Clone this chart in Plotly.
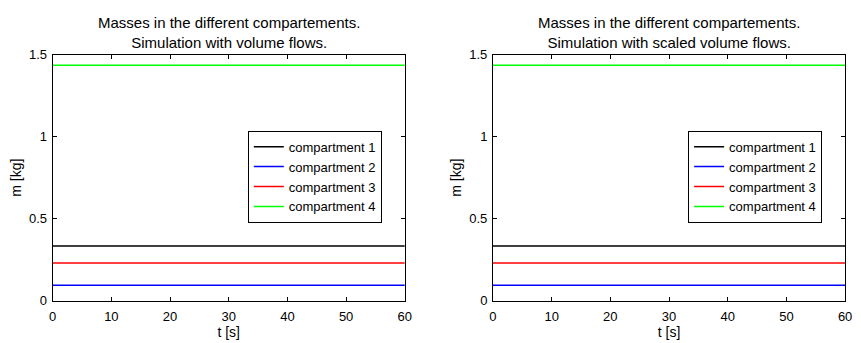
import plotly.graph_objects as go

t = [0, 60]
names = ["compartment 1", "compartment 2", "compartment 3", "compartment 4"]
colors = ["#000000", "#0000ff", "#ff0000", "#00ff00"]
mass_left = [0.333, 0.093, 0.229, 1.436]
mass_right = [0.333, 0.093, 0.229, 1.436]
titles = ["Masses in the different compartements.<br>Simulation with volume flows.",
          "Masses in the different compartements.<br>Simulation with scaled volume flows."]
xticks = [0, 10, 20, 30, 40, 50, 60]
yticks = [0, 0.5, 1, 1.5]
ytick_labels = ["0", "0.5", "1", "1.5"]

W, H = 861, 343
FONT = "Liberation Sans, Arial, sans-serif"

fig = go.Figure()
for panel, (vals, xa, ya, lg) in enumerate([(mass_left, "x", "y", "legend"),
                                            (mass_right, "x2", "y2", "legend2")]):
    for name, col, v in zip(names, colors, vals):
        fig.add_trace(go.Scatter(x=t, y=[v] * len(t), mode="lines", name=name,
                                 line=dict(color=col, width=1.5),
                                 xaxis=xa, yaxis=ya, legend=lg))

px_l = [(49.3, 406.0), (495.3, 852.0)]
y_top, y_bot = 50.0, 307.0
ydom = [1 - y_bot / H, 1 - y_top / H]

axis_common = dict(showline=True, linecolor="black", linewidth=1, mirror="allticks",
                   ticks="inside", ticklen=4, tickcolor="black", showgrid=False,
                   zeroline=False, tickfont=dict(family=FONT, size=13, color="black"))

layout = dict(width=W, height=H, margin=dict(l=0, r=0, t=0, b=0),
              paper_bgcolor="white", plot_bgcolor="white",
              font=dict(family=FONT, size=13, color="black"), showlegend=True)

for i, (x0, x1) in enumerate(px_l):
    sfx = "" if i == 0 else "2"
    layout["xaxis" + sfx] = dict(domain=[x0 / W, x1 / W], range=[0, 60], tickvals=xticks,
                                 anchor="y" + sfx, ticklabelstandoff=4,
                                 title=dict(text="t [s]", standoff=1,
                                            font=dict(family=FONT, size=14)),
                                 **axis_common)
    layout["yaxis" + sfx] = dict(domain=ydom, range=[0, 1.5], tickvals=yticks,
                                 ticktext=ytick_labels, anchor="x" + sfx,
                                 ticklabelstandoff=2,
                                 title=dict(text="m [kg]", standoff=4,
                                            font=dict(family=FONT, size=14)),
                                 **axis_common)
    layout["legend" + ("" if i == 0 else "2")] = dict(
        x=(x1 - 23.3) / W, y=1 - 177.5 / H, xanchor="right", yanchor="middle",
        bordercolor="black", borderwidth=1, bgcolor="white",
        font=dict(family=FONT, size=13), tracegroupgap=0, itemwidth=30)

fig.update_layout(**layout)
for i, (x0, x1) in enumerate(px_l):
    fig.add_annotation(text=titles[i], x=(x0 + x1) / 2 / W, y=1 - 5 / H, xref="paper",
                       yref="paper", xanchor="center", yanchor="top", showarrow=False,
                       font=dict(family=FONT, size=15, color="black"))

fig.write_html("out.html")
